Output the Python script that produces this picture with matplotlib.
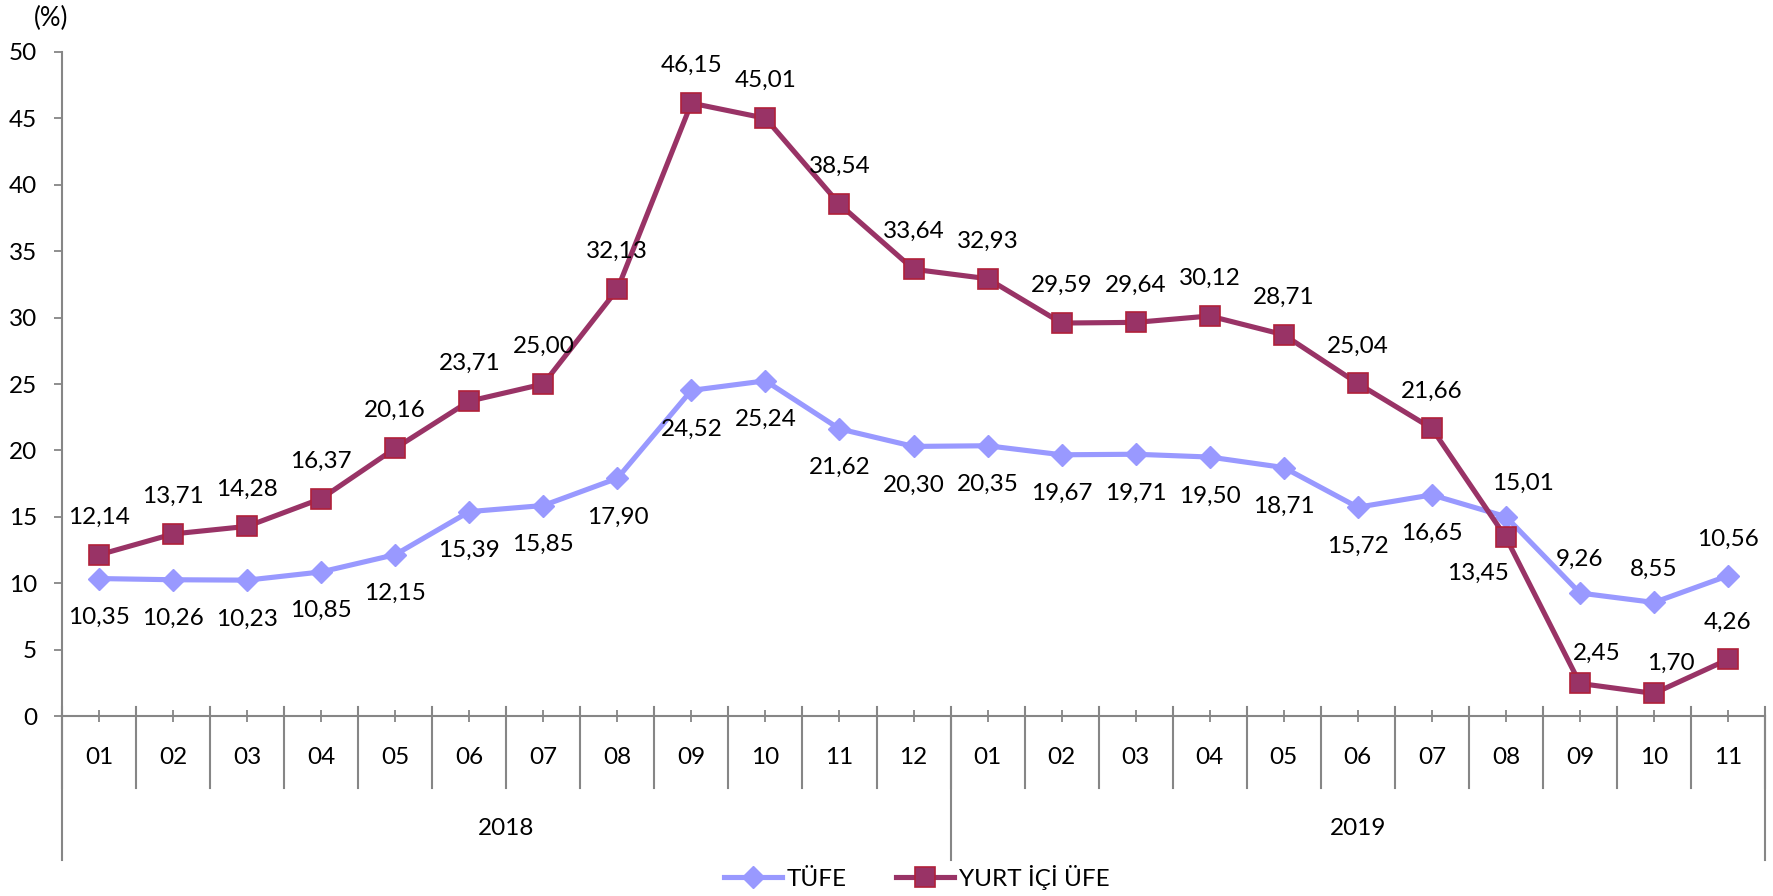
import numpy as np
import matplotlib.pyplot as plt
from matplotlib.lines import Line2D

months = ["01", "02", "03", "04", "05", "06", "07", "08", "09", "10", "11", "12",
          "01", "02", "03", "04", "05", "06", "07", "08", "09", "10", "11"]
years = ["2018", "2019"]
year_counts = [12, 11]

tufe = [10.35, 10.26, 10.23, 10.85, 12.15, 15.39, 15.85, 17.90, 24.52, 25.24, 21.62, 20.30,
        20.35, 19.67, 19.71, 19.50, 18.71, 15.72, 16.65, 15.01, 9.26, 8.55, 10.56]
ufe = [12.14, 13.71, 14.28, 16.37, 20.16, 23.71, 25.00, 32.13, 46.15, 45.01, 38.54, 33.64,
       32.93, 29.59, 29.64, 30.12, 28.71, 25.04, 21.66, 13.45, 2.45, 1.70, 4.26]

plt.rcParams['font.family'] = ['Lato', 'DejaVu Sans']
FS = 17.5
GRAY = "#868686"
C_TUFE = "#9999FF"
C_UFE = "#993366"

fig = plt.figure(figsize=(17.73, 8.96), dpi=100)
ax = fig.add_axes([0.035, 1 - 716 / 896, 0.9955 - 0.035, (716 - 52) / 896])

x = np.arange(len(months))
ax.plot(x, tufe, color=C_TUFE, lw=3.7, marker="D", ms=11, mfc=C_TUFE, mec=C_TUFE,
        label="TÜFE", zorder=3)
ax.plot(x, ufe, color=C_UFE, lw=3.7, marker="s", ms=14, mfc=C_UFE, mec="#B0203A",
        mew=1.2, label="YURT İÇİ ÜFE", zorder=4)

# data labels (offsets in points)
tufe_off = {i: (0, -28) for i in range(len(tufe))}
tufe_off.update({19: (12, 24), 20: (0, 24), 21: (0, 24), 22: (0, 26)})
ufe_off = {i: (0, 27) for i in range(len(ufe))}
ufe_off.update({19: (-20, -26), 20: (12, 22), 21: (12, 22)})
for vals, offs in ((tufe, tufe_off), (ufe, ufe_off)):
    for i, v in enumerate(vals):
        ax.annotate(f"{v:.2f}".replace(".", ","), (i, v), xytext=offs[i],
                    textcoords="offset points", ha="center", va="center",
                    fontsize=FS, color="black", zorder=5)

ax.set_xlim(-0.5, len(months) - 0.5)
ax.set_ylim(0, 50)
ax.set_yticks(range(0, 51, 5))
ax.tick_params(axis="y", direction="out", length=6, width=1.3, color=GRAY,
               labelsize=FS, pad=12)
ax.set_xticks(x)
ax.set_xticklabels(months)
ax.tick_params(axis="x", direction="inout", length=9, width=1.3, color=GRAY,
               labelsize=FS, pad=18)
for s in ["top", "right"]:
    ax.spines[s].set_visible(False)
for s in ["left", "bottom"]:
    ax.spines[s].set_color(GRAY)
    ax.spines[s].set_linewidth(1.5)

# category separators and year separators
trans = ax.get_xaxis_transform()
for b in np.arange(-0.5, len(months), 1.0):
    ax.add_line(Line2D([b, b], [0.014, -0.108], transform=trans, color=GRAY,
                       lw=1.5, clip_on=False))
edges = np.concatenate([[0], np.cumsum(year_counts)]) - 0.5
for b in edges:
    ax.add_line(Line2D([b, b], [0, -0.217], transform=trans, color=GRAY,
                       lw=1.5, clip_on=False))
for yr, a, b in zip(years, edges[:-1], edges[1:]):
    ax.text((a + b) / 2, -0.17, yr, transform=trans, ha="center", va="center",
            fontsize=FS)

fig.text(51 / 1773, 1 - 18 / 896, "(%)", ha="center", va="center", fontsize=FS + 1)

fig.legend(loc="center", bbox_to_anchor=(0.517, 1 - 877 / 896), ncol=2,
           frameon=False, fontsize=FS, handlelength=2.4, columnspacing=2.0,
           handletextpad=0.2)

fig.savefig("out.png", dpi=100)
